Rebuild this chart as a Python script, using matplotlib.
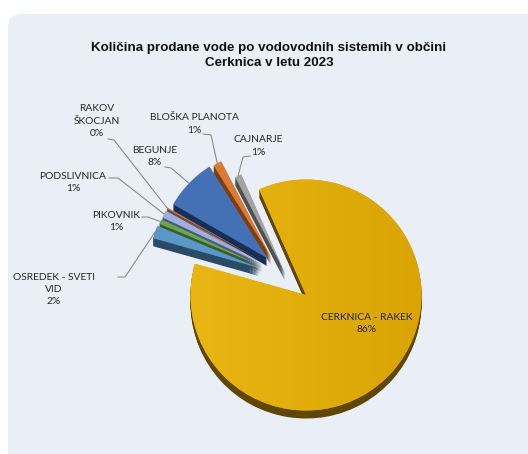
import numpy as np
import matplotlib
matplotlib.use('Agg')
import matplotlib.pyplot as plt
from matplotlib.patches import FancyBboxPatch

# podatki
names = ['CERKNICA - RAKEK', 'OSREDEK - SVETI\nVID', 'PIKOVNIK', 'PODSLIVNICA',
         'RAKOV\nŠKOCJAN', 'BEGUNJE', 'BLOŠKA PLANOTA', 'CAJNARJE']
values = [86.0, 1.9, 0.7, 1.1, 0.2, 7.8, 1.3, 1.0]
percent = ['86%', '2%', '1%', '1%', '0%', '8%', '1%', '1%']

# izgled
W, H = 528, 454
top_colors = ['#E0A90A', '#5B97C8', '#6AA84F', '#9DB0DF', '#C77F60', '#4470B5', '#DB7A33', '#A3A3A3']
side_colors = ['#5F4700', '#2B4A66', '#3A5C2B', '#4E5A7E', '#6E4030', '#172F55', '#7A3F12', '#505050']
tips = [(306, 295), (259, 268), (261, 266), (262, 264), (263, 262), (267, 258), (271, 257), (285, 273)]
radii = [115.5, 110, 110, 110, 110, 108, 108, 108]
layer = [0, 7, 6, 5, 4, 3, 2, 1]
text_xy = [(367, 323.5), (54, 289.5), (116, 221.5), (73, 182.5), (97, 121), (155, 156.5), (194, 124), (258, 146)]
elbows = [None, (125, 277), (148, 217), (118, 178), (114, 140), (171, 168), (211, 135), (243, 157)]
starts = [None, (118, 277), (142, 217), (109, 178), (108, 139), (165, 167), (203, 134), (250, 156)]
depth = 8

fig = plt.figure(figsize=(W / 100, H / 100), dpi=100, facecolor='white')
ax = fig.add_axes([0, 0, 1, 1])

bg = FancyBboxPatch((22, -30), W + 40, H + 2, boxstyle='round,pad=14,rounding_size=14',
                    fc='#E9EEF7', ec='none', mutation_scale=1, zorder=0)
ax.add_patch(bg)


def draw_layer(colors, d, z):
    parts, _ = ax.pie(values, colors=colors, startangle=113.9, counterclock=False,
                      radius=100, wedgeprops={'linewidth': 0})
    for i, p in enumerate(parts):
        p.set_center((tips[i][0], H - tips[i][1] - d))
        p.set_radius(radii[i])
        p.set_zorder(2 + layer[i] + z)
    return parts


# stranski rob - vec kopij pite navzdol
for d in range(depth, 0, -1):
    draw_layer(side_colors, d, 0)
wedges = draw_layer(top_colors, 0, 0.5)

# rahel prehod barve na veliki rezini
grad = np.linspace(0, 1, 256).reshape(1, -1)
cmap = matplotlib.colors.LinearSegmentedColormap.from_list('gold', ['#EAB612', '#D9A404'])
im = ax.imshow(grad, extent=(188, 422, 40, 280), cmap=cmap, aspect='auto', zorder=2.6)
im.set_clip_path(wedges[0])

ax.set_xlim(0, W)
ax.set_ylim(0, H)
ax.set_aspect('auto')
ax.axis('off')

label_font = {'family': 'Lato', 'fontsize': 7.4, 'color': '#262626', 'linespacing': 1.45, 'ha': 'center', 'va': 'center'}
for i, name in enumerate(names):
    ax.text(text_xy[i][0], H - text_xy[i][1], name + '\n' + percent[i], zorder=12, **label_font)
    if elbows[i] is None:
        continue
    # konec crte na zunanjem robu rezine
    w = wedges[i]
    mid = np.deg2rad((w.theta1 + w.theta2) / 2)
    ex = w.center[0] + w.r * np.cos(mid)
    ey = w.center[1] + w.r * np.sin(mid)
    ax.plot([starts[i][0], elbows[i][0], ex], [H - starts[i][1], H - elbows[i][1], ey],
            color='#808080', lw=0.7, zorder=11)

ax.text(269, H - 48, 'Količina prodane vode po vodovodnih sistemih v občini', family='Liberation Sans',
        fontsize=9.65, fontweight='bold', color='#111111', ha='center', va='center', zorder=12)
ax.text(269, H - 63, 'Cerknica v letu 2023', family='Liberation Sans',
        fontsize=9.65, fontweight='bold', color='#111111', ha='center', va='center', zorder=12)

fig.savefig('out.png', dpi=100)
